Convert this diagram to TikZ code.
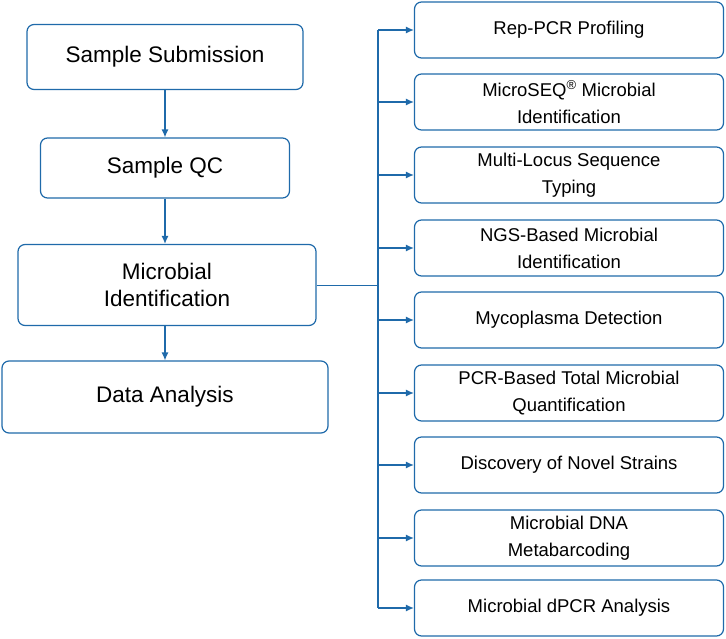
\documentclass[tikz,border=0pt]{standalone}
\usepackage{fontspec}
\setmainfont{Liberation Sans}
\usetikzlibrary{positioning,arrows.meta}
\definecolor{flowblue}{RGB}{31,106,170}
\begin{document}
\begin{tikzpicture}[x=1pt,y=-1pt,
  stage/.style={draw=flowblue,line width=1.2pt,rounded corners=7pt,fill=white,
    align=center,inner sep=0pt,font=\fontsize{22.5}{27}\selectfont},
  service/.style={draw=flowblue,line width=1.2pt,rounded corners=7pt,fill=white,
    align=center,inner sep=0pt,minimum width=309pt,minimum height=56pt,
    font=\fontsize{18.5}{27}\selectfont},
  >={Latex[length=8pt,width=7pt]}]
 \useasboundingbox (0,0) rectangle (726,638);
 % left column
 \node[stage,minimum width=276pt,minimum height=65pt] (submit) at (165,57) {Sample Submission};
 \node[stage,minimum width=249pt,minimum height=60pt] (qc) at (165,168) {Sample QC};
 \node[stage,minimum width=298pt,minimum height=81pt] (mid) at (167,285) {Microbial\\Identification};
 \node[stage,minimum width=326pt,minimum height=72pt] (data) at (165,397) {Data Analysis};
 \draw[->,flowblue,line width=1.2pt] (submit) -- (qc);
 \draw[->,flowblue,line width=1.2pt] (qc.south) -- (qc.south |- mid.north);
 \draw[->,flowblue,line width=1.2pt] (mid.south -| data.north) -- (data);
 % right column
 \node[service] (s1) at (569,30) {Rep-PCR Profiling};
 \node[service] (s2) at (569,102) {MicroSEQ\textsuperscript{®} Microbial\\Identification};
 \node[service] (s3) at (569,175) {Multi-Locus Sequence\\Typing};
 \node[service] (s4) at (569,248) {NGS-Based Microbial\\Identification};
 \node[service] (s5) at (569,320) {Mycoplasma Detection};
 \node[service] (s6) at (569,393) {PCR-Based Total Microbial\\Quantification};
 \node[service] (s7) at (569,465) {Discovery of Novel Strains};
 \node[service] (s8) at (569,538) {Microbial DNA\\Metabarcoding};
 \node[service] (s9) at (569,608) {Microbial dPCR Analysis};
 \coordinate (bus) at (378,285);
 \draw[flowblue,line width=0.8pt] (mid.east) -- (bus);
 \draw[flowblue,line width=1.2pt] (s1.west -| bus) -- (s9.west -| bus);
 \foreach \s in {s1,s2,s3,s4,s5,s6,s7,s8,s9}
   \draw[->,flowblue,line width=1.2pt] (\s.west -| bus) -- (\s);
\end{tikzpicture}
\end{document}
